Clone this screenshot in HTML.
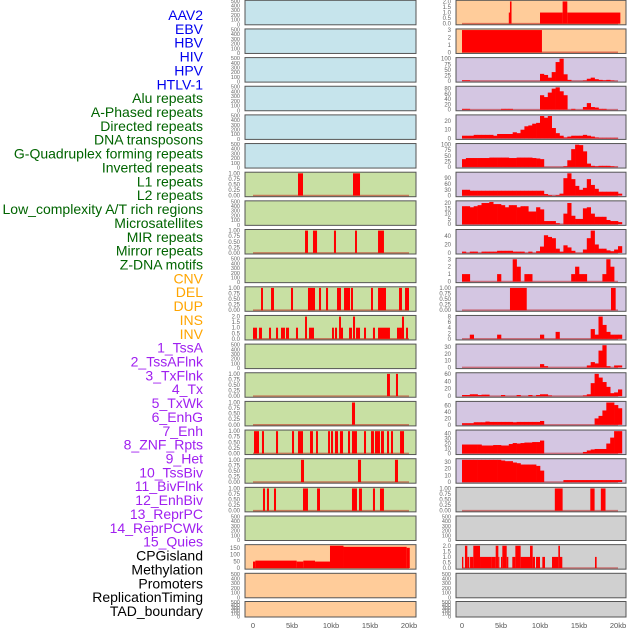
<!DOCTYPE html>
<html><head><meta charset="utf-8"><style>
html,body{margin:0;padding:0;background:#fff;}
svg{display:block;font-family:"Liberation Sans",Arial,sans-serif;}
</style></head><body>
<svg id="chart" width="630" height="630" viewBox="0 0 630 630" xmlns="http://www.w3.org/2000/svg">
<g id="labels"></g>
<g id="panels"></g>
<g id="xaxes"></g>
</svg>
<script>
// ---- data ----
const trackLabels = ["AAV2","EBV","HBV","HIV","HPV","HTLV-1","Alu repeats","A-Phased repeats","Directed repeats","DNA transposons","G-Quadruplex forming repeats","Inverted repeats","L1 repeats","L2 repeats","Low_complexity A/T rich regions","Microsatellites","MIR repeats","Mirror repeats","Z-DNA motifs","CNV","DEL","DUP","INS","INV","1_TssA","2_TssAFlnk","3_TxFlnk","4_Tx","5_TxWk","6_EnhG","7_Enh","8_ZNF_Rpts","9_Het","10_TssBiv","11_BivFlnk","12_EnhBiv","13_ReprPC","14_ReprPCWk","15_Quies","CPGisland","Methylation","Promoters","ReplicationTiming","TAD_boundary"];
const labelGroups = [6,13,5,15,5];
const groupColors = ["#0000ee","#006400","#ffa500","#a020f0","#000000"];
const xTickKb = [0,5,10,15,20];
const xTickLabels = ["0","5kb","10kb","15kb","20kb"];
const emptyTicks = [0,100,200,300,400,500];
const binaryTicks = [0,0.25,0.5,0.75,1];

// left column intervals [startKb, endKb, value]
const L6 = [[5.77,6.41,1],[12.82,13.72,1]];
const L8 = [[6.67,7.05,1],[7.69,8.21,1],[10.38,10.64,1],[13.08,13.33,1],[16.03,16.79,1]];
const L10 = [[1.03,1.28,1],[2.31,2.69,1],[4.87,5.13,1],[7.05,7.95,1],[8.46,8.72,1],[9.36,9.62,1],[10.77,11.28,1],[11.67,12.44,1],[12.56,12.82,1],[15.13,15.38,1],[16.03,17.05,1],[18.72,19.1,1],[19.49,20.0,1]];
const L11 = [[0,0.51,1],[0.77,1.15,1],[2.05,2.31,1],[2.95,3.21,1],[3.59,4.1,1],[4.23,4.62,1],[5.51,5.77,1],[6.67,6.92,2],[7.18,7.82,1],[10.13,10.38,1],[10.51,10.77,1],[11.03,11.28,2],[11.28,11.54,1],[12.31,12.69,1],[12.82,13.08,2],[13.21,13.72,1],[14.23,14.49,1],[15.38,15.64,1],[16.03,17.56,1],[18.46,19.1,1],[19.1,19.36,2],[19.62,19.87,1]];
const L13 = [[17.18,17.56,1],[18.33,18.59,1]];
const L14 = [[12.69,13.08,1]];
const L15 = [[0.13,0.77,1],[1.15,1.41,1],[2.95,3.21,1],[5.0,5.26,1],[5.77,6.41,1],[7.31,7.69,1],[8.08,8.33,1],[9.62,9.87,1],[10.0,10.26,1],[10.51,10.9,1],[11.15,11.54,1],[12.18,12.44,1],[12.69,13.33,1],[14.23,14.49,1],[15.13,15.51,1],[15.64,16.28,1],[16.41,16.79,1],[17.18,17.44,1],[17.69,17.95,1],[18.85,19.36,1]];
const L16 = [[6.15,6.54,1],[13.46,13.85,1],[18.2,18.59,1]];
const L17 = [[1.28,1.54,1],[1.79,2.05,1],[2.69,2.95,1],[6.41,7.05,1],[8.21,8.59,1],[12.69,13.33,1],[13.59,13.97,1],[15.38,15.64,1],[16.28,16.79,1]];
const L19 = [[0,0.3,48],[0.3,5.6,55],[5.6,6.45,48],[6.45,7.95,55],[7.95,9.87,48],[9.87,11.6,165],[11.6,19.7,157],[19.7,20.1,150]];

// right column
const R0 = [[6.0,6.15,1],[6.15,6.35,2],[10.0,12.9,1],[12.9,13.5,2],[13.5,20.3,1]];
const R1 = [[0,10.25,3]];
const R2 = [3,3,0,0,0,0,0,0,0,0,0,0,0,0,0,0,0,0,0,0,32,27,15,40,85,100,30,5,0,0,0,2,10,15,8,5,3,5,2,0,0];
const R3 = [3,3,0,0,0,0,0,0,0,0,3,3,3,0,0,0,0,0,0,0,55,48,65,80,85,70,55,0,3,0,0,10,25,10,8,3,3,0,0,0,0];
const R4 = [3,3,3,4,4,4,4,4,3,5,5,5,5,7,6,10,14,15,17,18,26,24,26,12,6,3,1,2,3,3,3,4,3,2,1,0.5,0.5,0.5,0.5,0.5,0];
const R5 = [35,40,40,40,40,40,40,42,42,42,42,42,40,40,42,42,42,42,40,38,35,0,0,0,0,0,3,30,80,100,98,70,15,5,3,5,5,5,3,1,0];
const R6 = [30,30,25,25,25,25,25,25,25,25,25,25,25,25,25,25,25,25,25,25,25,8,3,0,3,10,90,115,85,50,30,40,85,55,35,20,20,20,20,20,10];
const R7 = [17,17,16,17,18,20,20,21,19,19,18,16,18,18,16,17,17,12,12,16,14,3,3,3,1,0,10,20,8,5,5,15,16,10,7,7,7,4,3,3,2];
const R8 = [3,0,3,3,0,3,3,3,3,5,5,5,5,3,3,3,0,3,0,4,15,42,38,35,10,3,18,13,5,0,0,8,35,53,20,10,10,6,4,8,16];
const R9 = [1,1,0,0,0,0,0,0,0,1,0,0,0,3,2,0,1,1,0,0,0,0,0,0,0,0,0,0,1,2,1,1,0,0,0,0,1,3,2,0,0];
const R10 = [[6.15,8.3,1],[19.1,19.7,1]];
const R11 = [0,0,1.5,0,0,0,0,0,0,1.5,0,0,0,0,0,0,0,0,0,0,1.5,0,0,0,2.5,0,0,0,0,0,0,0,0,3.5,1.5,8,5,2.5,1.5,1.5,1.5];
const R12 = [0,0,0,0,0,0,0,0,0,0,0,0,0,0,0,0,0,0,0,0,5,2,0,0,0,0,0,0,0,0,0,0,3,8,6,25,33,2,0,3,3];
const R13 = [3,3,5,5,3,4,4,0,0,0,3,0,0,0,3,0,0,3,0,3,5,5,2,0,0,0,0,0,0,0,0,2,5,35,60,50,38,25,8,10,18];
const R14 = [5,5,5,8,8,8,10,9,9,9,9,9,9,8,9,9,9,9,9,9,12,0,0,0,0,0,0,0,0,0,0,0,0,0,20,28,45,70,70,62,52];
const R15 = [18,18,18,18,18,16,16,16,17,17,16,16,19,21,20,21,22,22,23,23,26,0,0,0,0,0,0,0,0,0,0,3,6,8,9,9,9,20,32,45,45];
const R16 = [33,33,33,33,33,33,33,33,33,33,32,31,31,29,28,26,26,26,26,24,17,0,0,0,0,0,3,3,3,3,3,3,3,3,3,3,3,3,3,3,3];
const R17 = [[11.9,12.9,1],[16.45,17.0,1],[17.8,18.4,1]];
const R19 = [[0,0.17,1],[0.38,0.68,2],[0.68,0.94,1],[1.03,1.45,1],[1.45,2.31,2],[2.31,3.8,1],[3.8,4.32,1],[4.32,4.66,2],[4.66,4.79,1],[5.0,5.17,1],[5.17,5.73,2],[5.73,5.94,1],[6.45,6.84,1],[6.84,7.52,2],[7.52,8.72,1],[8.72,9.06,2],[9.06,9.36,1],[9.49,10.0,1],[10.3,10.64,1],[11.54,12.35,1],[12.35,12.56,2],[12.56,12.86,1],[17.05,17.26,1]];

const BLUE="#c6e4ec", GREEN="#c8e0a3", PEACH="#ffcc9a", PURPLE="#d4c6e2", GRAY="#d0d0d0";
// panel specs: [col,row,bg,kind,data,ticks,tickDecimals,name]
const panels = [
 [0,0,BLUE,"empty",null,emptyTicks,0,"aav2-panel"],
 [0,1,BLUE,"empty",null,emptyTicks,0,"ebv-panel"],
 [0,2,BLUE,"empty",null,emptyTicks,0,"hbv-panel"],
 [0,3,BLUE,"empty",null,emptyTicks,0,"hiv-panel"],
 [0,4,BLUE,"empty",null,emptyTicks,0,"hpv-panel"],
 [0,5,BLUE,"empty",null,emptyTicks,0,"htlv1-panel"],
 [0,6,GREEN,"int",L6,binaryTicks,2,"alu-panel"],
 [0,7,GREEN,"empty",null,emptyTicks,0,"a-phased-panel"],
 [0,8,GREEN,"int",L8,binaryTicks,2,"directed-panel"],
 [0,9,GREEN,"empty",null,emptyTicks,0,"dna-transposons-panel"],
 [0,10,GREEN,"int",L10,binaryTicks,2,"g-quadruplex-panel"],
 [0,11,GREEN,"int",L11,[0,0.5,1,1.5,2],1,"inverted-panel"],
 [0,12,GREEN,"empty",null,emptyTicks,0,"l1-panel"],
 [0,13,GREEN,"int",L13,binaryTicks,2,"l2-panel"],
 [0,14,GREEN,"int",L14,binaryTicks,2,"low-complexity-panel"],
 [0,15,GREEN,"int",L15,binaryTicks,2,"microsatellites-panel"],
 [0,16,GREEN,"int",L16,binaryTicks,2,"mir-panel"],
 [0,17,GREEN,"int",L17,binaryTicks,2,"mirror-panel"],
 [0,18,GREEN,"empty",null,emptyTicks,0,"z-dna-panel"],
 [0,19,PEACH,"int",L19,[0,50,100,150],0,"cnv-panel"],
 [0,20,PEACH,"empty",null,emptyTicks,0,"del-panel"],
 [0,21,PEACH,"empty",null,emptyTicks,0,"dup-panel"],
 [1,0,PEACH,"int",R0,[0,0.5,1,1.5,2],1,"ins-panel"],
 [1,1,PEACH,"int",R1,[0,1,2,3],0,"inv-panel"],
 [1,2,PURPLE,"bins",R2,[0,25,50,75,100],0,"tssa-panel"],
 [1,3,PURPLE,"bins",R3,[0,20,40,60,80],0,"tssaflnk-panel"],
 [1,4,PURPLE,"bins",R4,[0,10,20],0,"txflnk-panel"],
 [1,5,PURPLE,"bins",R5,[0,25,50,75,100],0,"tx-panel"],
 [1,6,PURPLE,"bins",R6,[0,30,60,90],0,"txwk-panel"],
 [1,7,PURPLE,"bins",R7,[0,5,10,15,20],0,"enhg-panel"],
 [1,8,PURPLE,"bins",R8,[0,20,40],0,"enh-panel"],
 [1,9,PURPLE,"bins",R9,[0,1,2,3],0,"znf-rpts-panel"],
 [1,10,PURPLE,"int",R10,binaryTicks,2,"het-panel"],
 [1,11,PURPLE,"bins",R11,[0,2,4,6,8],0,"tssbiv-panel"],
 [1,12,PURPLE,"bins",R12,[0,10,20,30],0,"bivflnk-panel"],
 [1,13,PURPLE,"bins",R13,[0,20,40,60],0,"enhbiv-panel"],
 [1,14,PURPLE,"bins",R14,[0,20,40,60],0,"reprpc-panel"],
 [1,15,PURPLE,"bins",R15,[0,10,20,30,40],0,"reprpcwk-panel"],
 [1,16,PURPLE,"bins",R16,[0,10,20,30],0,"quies-panel"],
 [1,17,GRAY,"int",R17,binaryTicks,2,"cpgisland-panel"],
 [1,18,GRAY,"empty",null,emptyTicks,0,"methylation-panel"],
 [1,19,GRAY,"int",R19,[0,0.5,1,1.5,2],1,"promoters-panel"],
 [1,20,GRAY,"empty",null,emptyTicks,0,"replication-timing-panel"],
 [1,21,GRAY,"empty",null,emptyTicks,0,"tad-boundary-panel"]
];

// ---- drawing ----
const NS="http://www.w3.org/2000/svg";
function mk(tag,attrs,parent){const e=document.createElementNS(NS,tag);for(const k in attrs)e.setAttribute(k,attrs[k]);parent.appendChild(e);return e;}
const PX_PER_KB=7.8, BIN_KB=0.5;
function xOrigin(col){return col?462:253;}
function xScale(col,kb){return xOrigin(col)+kb*PX_PER_KB;}
function panelLeft(col){return col?456:245;}
function panelRight(col){return col?626:416;}
function rowTop(r){return r<21? r*28.65+0.3 : 601.5;}
function rowH(r){return r<21? 24.5 : 15.5;}

const labelsG=document.getElementById('labels');
let idx=0;
labelGroups.forEach((n,g)=>{for(let k=0;k<n;k++){
  const t=mk('text',{x:203,y:(15+idx*13.86+5).toFixed(2),'text-anchor':'end','font-size':'14',fill:groupColors[g]},labelsG);
  t.textContent=trackLabels[idx];
  
  
  idx++;}});

const panelsG=document.getElementById('panels');
const defs=mk('defs',{},panelsG);
panels.forEach((p,pi)=>{
  const [col,row,bg,kind,data,ticks,dec,name]=p;
  const x0=panelLeft(col), x1=panelRight(col), y0=rowTop(row), h=rowH(row), y1=y0+h;
  const g=mk('g',{},panelsG);
  
  
  const bgR=mk('rect',{x:x0,y:y0,width:x1-x0,height:h,fill:bg},g);
  
  
  let lo,hi;
  if(kind==="empty"){lo=-10;hi=510;}
  else{
    let M=0;
    if(kind==="bins") data.forEach(v=>{if(v>M)M=v;});
    else data.forEach(d=>{if(d[2]>M)M=d[2];});
    if(M<=0)M=1;
    lo=-0.05*M; hi=1.05*M;
  }
  const yS=v=>y1-(v-lo)/(hi-lo)*h;
  const cid='clip'+pi;
  const cp=mk('clipPath',{id:cid},defs);
  mk('rect',{x:x0,y:y0,width:x1-x0,height:h},cp);
  const dg=mk('g',{'clip-path':'url(#'+cid+')'},g);
  if(kind!=="empty"){
    const base=mk('line',{x1:xScale(col,0),x2:xScale(col,20),y1:yS(0),y2:yS(0),stroke:'rgba(190,0,0,0.45)','stroke-width':1.6},dg);
    
    
    if(kind==="bins"){
      data.forEach((v,i)=>{ if(v<=0)return;
        const xa=xScale(col,i*BIN_KB), xb=xScale(col,(i+1)*BIN_KB);
        const r=mk('rect',{x:xa.toFixed(2),y:yS(v).toFixed(2),width:(xb-xa+0.3).toFixed(2),height:(yS(0)-yS(v)).toFixed(2),fill:'#ff0000'},dg);
        
        
      });
    } else {
      data.forEach(d=>{
        const xa=xScale(col,d[0]), xb=xScale(col,d[1]);
        const r=mk('rect',{x:xa.toFixed(2),y:yS(d[2]).toFixed(2),width:Math.max(1,xb-xa).toFixed(2),height:(yS(0)-yS(d[2])).toFixed(2),fill:'#ff0000'},dg);
        
        
      });
    }
  }
  const border=mk('rect',{x:x0,y:y0,width:x1-x0,height:h,fill:'none',stroke:'#555','stroke-width':1},g);
  
  
  const fs = kind==="empty" ? 5.5 : 6;
  ticks.forEach(tv=>{
    const t=mk('text',{x:x0-5,y:(yS(tv)+2).toFixed(2),'text-anchor':'end','font-size':fs,fill:'#666'},g);
    t.textContent=tv.toFixed(dec);
    
    
  });
});

const xg=document.getElementById('xaxes');
[0,1].forEach(col=>{
  xTickKb.forEach((kb,i)=>{
    const t=mk('text',{x:xScale(col,kb).toFixed(2),y:628,'text-anchor':'middle','font-size':7.5,fill:'#555'},xg);
    t.textContent=xTickLabels[i];
    
    
  });
});
</script>
</body></html>
